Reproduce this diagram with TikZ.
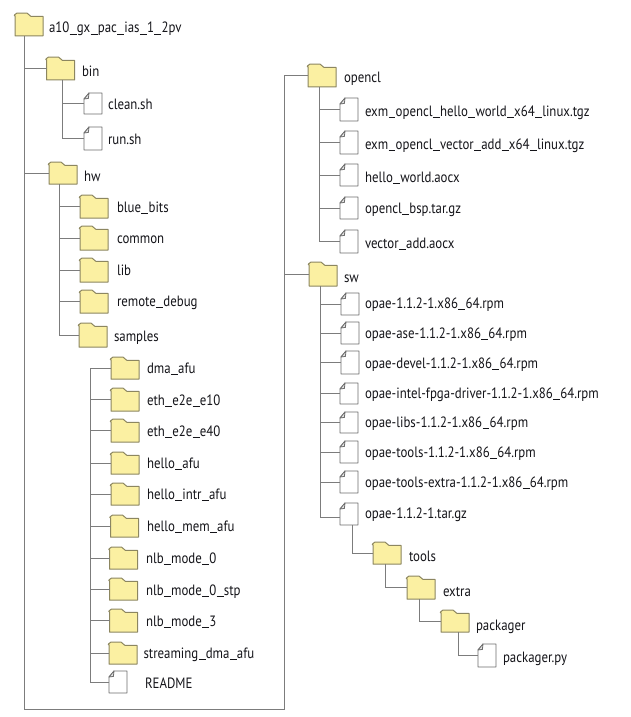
\documentclass[tikz,border=0pt]{standalone}
\usepackage{fontspec}
\setmainfont[FakeStretch=0.86]{PT Sans}
\definecolor{folderfill}{HTML}{FBF0A2}
\definecolor{folderedge}{HTML}{8C8660}
\definecolor{lineg}{HTML}{7C7C7C}
\definecolor{fileedge}{HTML}{6E6E6E}
\definecolor{txt}{HTML}{15151A}
\newcommand{\us}{\kern0.2pt\rule[-1.7pt]{5.2pt}{0.6pt}\kern0.2pt}
\tikzset{
  hit/.style={inner sep=0pt,outer sep=0pt,rectangle},
  lbl/.style={inner sep=0pt,outer sep=0pt,anchor=base west,font=\fontsize{11.2}{13}\selectfont,text=txt},
  foldershape/.style={draw=folderedge,fill=folderfill,line width=0.75pt,line join=round},
  fileshape/.style={draw=fileedge,fill=white,line width=0.6pt,line join=round},
  conn/.style={draw=lineg,line width=0.7pt,line join=miter}
}
% name, left x, top y, bottom y, label x, label baseline, text
\newcommand{\fldr}[7]{%
  \node[hit,minimum width=21pt,minimum height={(#4-#3)*0.75pt}] (#1) at (#2+14,{(#3+#4)/2}) {};
  \draw[foldershape] (#1.north west) ++(0,2.6) -- (#1.south west) -- (#1.south east) -- ([yshift=-2.6pt]#1.north east) -- ++(-12,0) -- ++(-4,-3.4) -- ++(-10,0) .. controls ++(-1.2,0) and ++(-2,0.8) .. cycle;
  \node[lbl] (#1-t) at (#5,#6) {#7};
}
\newcommand{\fle}[7]{%
  \node[hit,minimum width=13.5pt,minimum height={(#4-#3)*0.75pt}] (#1) at (#2+9,{(#3+#4)/2}) {};
  \draw[fileshape] (#1.north west) ++(0,6) -- (#1.south west) -- (#1.south east) -- (#1.north east) -- ++(-13,0) -- cycle;
  \draw[fileshape,fill=black!12] (#1.north west) ++(5,0) -- ++(-0.6,5.4) -- ++(-4.4,0.6) -- cycle;
  \node[lbl] (#1-t) at (#5,#6) {#7};
}
\begin{document}
\begin{tikzpicture}[x=0.75pt,y=-0.75pt]
\useasboundingbox[fill=white] (0,0) rectangle (631,717);
% left column
\fldr{root}{15}{13}{36}{49}{33}{a10\us gx\us pac\us ias\us 1\us 2pv}
\fldr{bin}{46.5}{57}{80}{82}{76}{bin}
\fle{clean}{84}{93}{114}{108}{109}{clean.sh}
\fle{run}{84}{127}{150}{108}{144}{run.sh}
\fldr{hw}{49}{162}{184}{84}{181}{hw}
\fldr{blue}{80}{195}{218}{117}{212}{blue\us bits}
\fldr{common}{80}{226}{250}{117}{243}{common}
\fldr{lib}{80}{258}{282}{117}{275}{lib}
\fldr{remote}{80}{290}{313}{117}{306}{remote\us debug}
\fldr{samples}{79}{323}{347}{114}{341}{samples}
\fldr{dma}{111}{357}{379}{147}{373}{dma\us afu}
\fldr{e10}{111}{388}{411}{147}{405}{eth\us e2e\us e10}
\fldr{e40}{111}{419}{442}{147}{436}{eth\us e2e\us e40}
\fldr{hello}{111}{452}{474}{147}{468}{hello\us afu}
\fldr{intr}{111}{483}{505}{147}{499}{hello\us intr\us afu}
\fldr{mem}{110.5}{515}{537}{147}{531}{hello\us mem\us afu}
\fldr{nlbz}{109.5}{547}{569}{146}{563}{nlb\us mode\us 0}
\fldr{stp}{109.5}{578}{600}{146}{595}{nlb\us mode\us 0\us stp}
\fldr{nlbt}{109.5}{609}{632}{146}{626}{nlb\us mode\us 3}
\fldr{stream}{109}{642}{664}{143.5}{658}{streaming\us dma\us afu}
\fle{readme}{109}{671}{693}{145}{688}{README}
% right column
\fldr{opencl}{308}{64}{87}{344}{83}{opencl}
\fle{exmh}{340}{98}{121}{365}{116}{exm\us opencl\us hello\us world\us x64\us linux.tgz}
\fle{exmv}{340}{131}{154}{365}{149}{exm\us opencl\us vector\us add\us x64\us linux.tgz}
\fle{hw-a}{340}{164}{186}{365}{182}{hello\us world.aocx}
\fle{bsp}{340}{197}{219}{365}{213}{opencl\us bsp.tar.gz}
\fle{vec}{340}{230}{253}{365}{248}{vector\us add.aocx}
\fldr{sw}{309}{262}{286}{344}{282}{sw}
\fle{rpma}{341}{293}{315}{365}{308}{opae-1.1.2-1.x86\us 64.rpm}
\fle{rpmb}{341}{322}{344}{365}{338}{opae-ase-1.1.2-1.x86\us 64.rpm}
\fle{rpmc}{341}{351}{374}{365}{368}{opae-devel-1.1.2-1.x86\us 64.rpm}
\fle{rpmd}{340}{383}{404}{365}{398}{opae-intel-fpga-driver-1.1.2-1.x86\us 64.rpm}
\fle{rpme}{340}{412}{433}{365}{427}{opae-libs-1.1.2-1.x86\us 64.rpm}
\fle{rpmf}{340}{441}{463}{365}{457}{opae-tools-1.1.2-1.x86\us 64.rpm}
\fle{rpmg}{340}{471}{493}{365}{487}{opae-tools-extra-1.1.2-1.x86\us 64.rpm}
\fle{tar}{340}{503}{525}{365}{518}{opae-1.1.2-1.tar.gz}
\fldr{tools}{373}{542}{564}{409}{561}{tools}
\fldr{extra}{407}{576}{599}{443}{596}{extra}
\fldr{pack}{441}{610}{632}{476}{630}{packager}
\fle{py}{478}{644}{667}{503}{662}{packager.py}
% trunk anchors
\coordinate (rootT) at (24,36);
\coordinate (outerA) at (24,709);
\coordinate (outerB) at (284,709);
\coordinate (binT) at (62,80);
\coordinate (hwT) at (59,184);
\coordinate (dmaT) at (90,368);
\coordinate (openT) at (319,87);
\coordinate (swT) at (320,286);
\coordinate (tarT) at (352,525);
\coordinate (toolsT) at (385,564);
\coordinate (extraT) at (419,599);
\coordinate (packT) at (458,632);
% connectors
\draw[conn] (rootT) -- (outerA) -- (outerB) |- (opencl.west);
\draw[conn] (outerB |- sw.west) -- (sw.west);
\draw[conn] (rootT |- bin.west) -- (bin.west);
\draw[conn] (rootT |- hw.west) -- (hw.west);
\draw[conn] (binT) |- (clean.west);
\draw[conn] (binT) |- (run.west);
\draw[conn] (hwT) |- (samples.west);
\foreach \n in {blue,common,lib,remote} \draw[conn] (hwT |- \n.west) -- (\n.west);
\draw[conn] (dmaT |- dma.west) -- (dmaT |- readme.west) -- (readme.west);
\foreach \n in {dma,e10,e40,hello,intr,mem,nlbz,stp,nlbt,stream} \draw[conn] (dmaT |- \n.west) -- (\n.west);
\draw[conn] (openT) |- (vec.west);
\foreach \n in {exmh,exmv,hw-a,bsp} \draw[conn] (openT |- \n.west) -- (\n.west);
\draw[conn] (swT) |- ([yshift=-2.25pt]tar.west);
\foreach \n in {rpma,rpmb,rpmc,rpmd,rpme,rpmf,rpmg} \draw[conn] (swT |- \n.west) -- (\n.west);
\draw[conn] (tarT) |- (tools.west);
\draw[conn] (toolsT) |- (extra.west);
\draw[conn] (extraT) |- (pack.west);
\draw[conn] (packT) |- (py.west);
\end{tikzpicture}
\end{document}
